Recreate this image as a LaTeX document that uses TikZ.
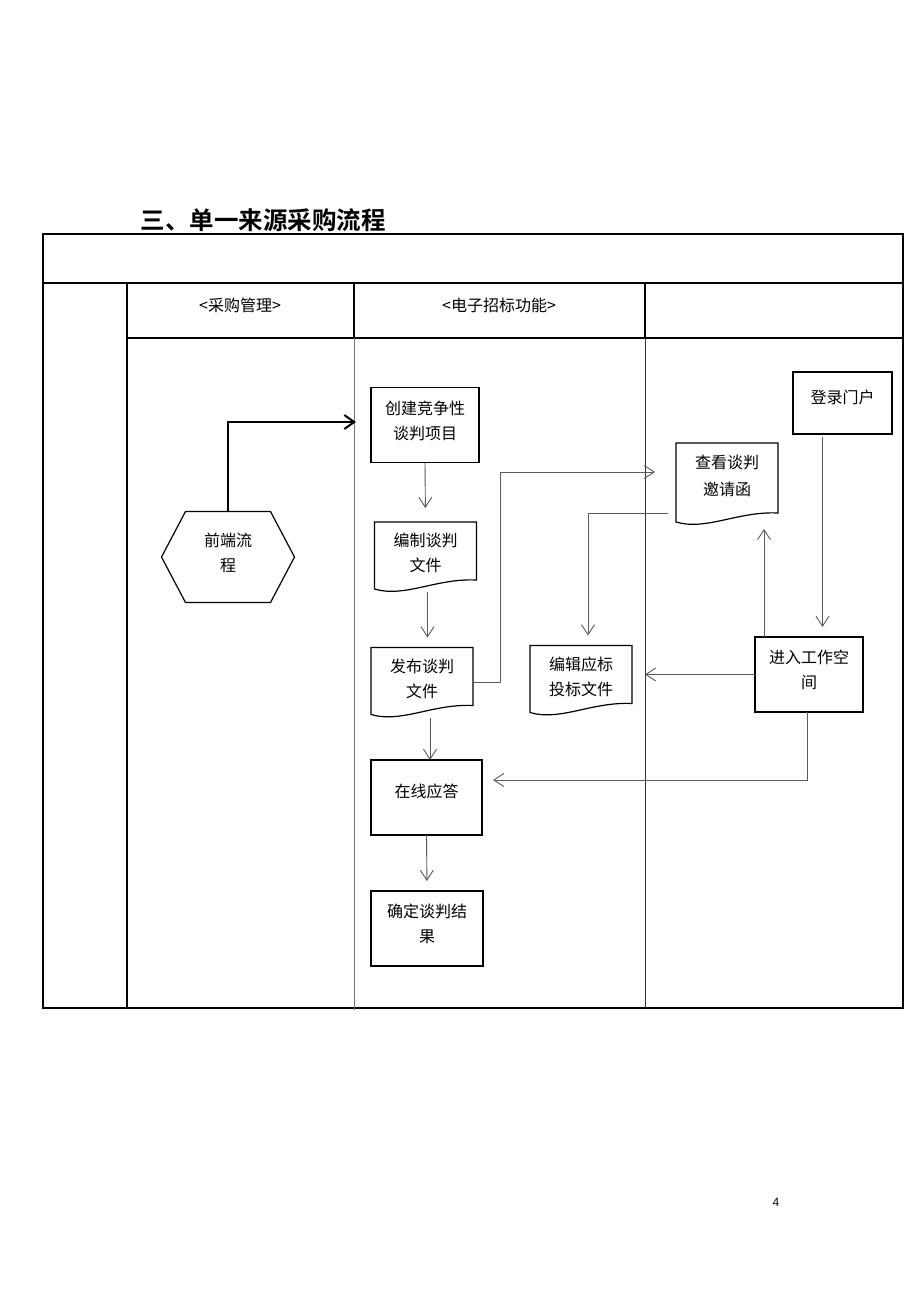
\documentclass[tikz,border=0pt]{standalone}
\usepackage{fontspec}
\setmainfont{Liberation Sans}
\newfontfamily\cjk{Noto Sans CJK SC}
\newfontfamily\cjkbold{Noto Sans CJK SC Bold}
\usetikzlibrary{arrows.meta,calc}

\tikzset{
    every node/.style={outer sep=0pt, inner sep=0pt, align=center, font=\cjk\fontsize{16}{25}\selectfont},
    procbox/.style={draw, line width=1.2pt, minimum width=108pt, minimum height=75pt, text depth=10pt},
    docbox/.style={minimum width=102pt, minimum height=70pt, text depth=9pt},
    flowline/.style={draw=black!65, line width=0.9pt, -{Straight Barb[length=10pt,width=13pt]}},
    mainline/.style={draw=black, line width=2pt, -{Straight Barb[length=10pt,width=14pt]}},
    laneline/.style={line width=1.4pt}
}
% document shape with a wavy bottom
\newcommand{\docshape}[1]{
    \draw[line width=1.2pt] (#1.north west) -- (#1.north east) -- ([yshift=12pt]#1.south east)
        .. controls ([xshift=-40pt,yshift=14pt]#1.south east) and ([xshift=30pt,yshift=-6pt]#1.south west)
        .. ([yshift=3pt]#1.south west) -- cycle;
}

\begin{document}
\begin{tikzpicture}[x=1pt, y=-1pt]
    \useasboundingbox (0,0) rectangle (920,1302);

    % Title
    \node[font=\cjkbold\fontsize{24.5}{28}\selectfont] (title) at (263,220) {三、单一来源采购流程};

    % Lanes
    \draw[laneline] (43,234) rectangle (903,1008);
    \draw[laneline] (43,283) -- (903,283);
    \draw[laneline] (127,338) -- (903,338);
    \draw[laneline] (127,283) -- (127,1008);
    \draw[laneline] (354,283) -- (354,338);
    \draw[black!55, line width=0.8pt] (354,338) -- (354,1010);
    \draw[laneline] (645,283) -- (645,338);
    \draw[black!80, line width=0.8pt] (645,338) -- (645,1008);
    \node (laneA) at (240,305) {<采购管理>};
    \node (laneB) at (499,305) {<电子招标功能>};

    % Front step
    \node[minimum width=133pt, minimum height=91pt, text depth=10pt] (qianduan) at (228,557) {前端流\\程};
    \draw[line width=1.2pt] ([xshift=24pt]qianduan.north west) -- ([xshift=-24pt]qianduan.north east)
        -- (qianduan.east) -- ([xshift=-24pt]qianduan.south east)
        -- ([xshift=24pt]qianduan.south west) -- (qianduan.west) -- cycle;

    % Boxes
    \node[procbox] (chuangjian) at (425,425) {创建竞争性\\谈判项目};
    \node[procbox, minimum width=99pt, minimum height=62pt, text depth=13pt] (denglu) at (842.5,403) {登录门户};
    \node[procbox] (jinru) at (809,674.5) {进入工作空\\间};
    \node[procbox, minimum width=111pt, text depth=14pt] (zaixian) at (426.5,797.5) {在线应答};
    \node[procbox, minimum width=112pt] (queding) at (427,928.5) {确定谈判结\\果};

    % Documents
    \node[docbox] (bianzhi) at (425.5,557) {编制谈判\\文件};
    \docshape{bianzhi}
    \node[docbox] (fabu) at (422,682.5) {发布谈判\\文件};
    \docshape{fabu}
    \node[docbox] (bianji) at (581,680.5) {编辑应标\\投标文件};
    \docshape{bianji}
    \node[docbox, minimum height=82pt, text depth=17pt] (chakan) at (727,484) {查看谈判\\[2pt]邀请函};
    \docshape{chakan}

    % Free ends
    \coordinate (laneEntry) at (356,422);
    \coordinate (turnA) at (500,472);
    \coordinate (tipA) at (655,472);
    \coordinate (tipB) at (493,780);

    % Connectors
    \draw[mainline] (qianduan.north) |- (laneEntry);
    \draw[flowline, shorten >=14pt] (chuangjian.south) -- (bianzhi.north);
    \draw[flowline, shorten >=10pt] ([xshift=2pt]bianzhi.south) -- ([xshift=2pt]bianzhi.south |- fabu.north);
    \draw[flowline] (fabu.east) -| (turnA) -- (tipA);
    \draw[flowline, shorten >=10pt] ([shift={(-8,29)}]chakan.west) -| ([xshift=7pt]bianji.north);
    \draw[flowline, shorten >=13pt] (jinru.west) -- (jinru.west -| bianji.east);
    \draw[flowline, shorten >=4pt] ([xshift=-45pt]jinru.north) -- ([xshift=-45pt]jinru.north |- chakan.south);
    \draw[flowline, shorten <=3pt, shorten >=10pt] ([xshift=-20pt]denglu.south) -- ([xshift=-20pt]denglu.south |- jinru.north);
    \draw[flowline] ([xshift=-2pt]jinru.south) |- (tipB);
    \draw[flowline] ([xshift=8pt]fabu.south) -- ([xshift=8pt]fabu.south |- zaixian.north);
    \draw[flowline, shorten >=10pt] (zaixian.south) -- (queding.north);

    % Page number
    \node[font=\fontsize{12}{14}\selectfont] (pagenum) at (776,1202) {4};
\end{tikzpicture}
\end{document}
